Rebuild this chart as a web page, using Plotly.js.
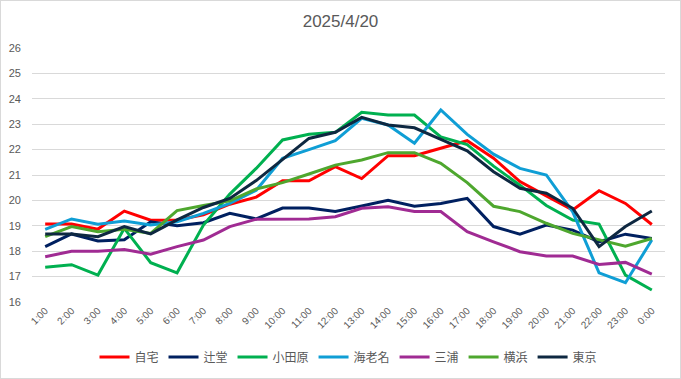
<!DOCTYPE html>
<html><head><meta charset="utf-8">
<script src="https://cdn.plot.ly/plotly-3.0.1.min.js"></script>
<style>
html,body{margin:0;padding:0;background:#fff;}
#chart{width:679px;height:377px;border:1px solid #D9D9D9;}
</style></head><body>
<div id="chart"></div>
<script>
const hours = ["1:00","2:00","3:00","4:00","5:00","6:00","7:00","8:00","9:00","10:00","11:00","12:00","13:00","14:00","15:00","16:00","17:00","18:00","19:00","20:00","21:00","22:00","23:00","0:00"];
const seriesNames = ["自宅","辻堂","小田原","海老名","三浦","横浜","東京"];
const jitaku   = [19.07,19.07,18.87,19.58,19.22,19.23,19.43,19.85,20.13,20.77,20.77,21.33,20.86,21.76,21.76,22.05,22.35,21.66,20.74,20.18,19.62,20.38,19.88,19.05];
const tsujido  = [18.18,18.68,18.40,18.45,19.16,19.00,19.12,19.49,19.27,19.70,19.70,19.56,19.78,20.00,19.77,19.88,20.08,18.97,18.67,19.03,18.83,18.37,18.67,18.50];
const odawara  = [17.37,17.47,17.06,18.90,17.55,17.15,19.03,20.25,21.26,22.38,22.60,22.68,23.47,23.36,23.36,22.50,22.20,21.35,20.60,19.80,19.23,19.07,17.06,16.47];
const ebina    = [18.86,19.27,19.06,19.19,19.03,19.16,19.49,19.88,20.40,21.66,22.00,22.35,23.23,22.97,22.25,23.56,22.60,21.82,21.26,21.00,19.55,17.15,16.76,18.44];
const miura    = [17.78,18.00,18.00,18.07,17.88,18.18,18.44,18.97,19.26,19.27,19.27,19.36,19.69,19.75,19.56,19.56,18.77,18.37,17.98,17.81,17.81,17.48,17.56,17.10];
const yokohama = [18.57,18.97,18.77,18.86,18.70,19.60,19.80,19.98,20.45,20.70,21.04,21.39,21.59,21.88,21.88,21.46,20.70,19.77,19.56,19.10,18.70,18.44,18.20,18.50];
const tokyo    = [18.68,18.68,18.57,18.97,18.68,19.23,19.72,20.08,20.78,21.62,22.44,22.68,23.27,22.97,22.86,22.40,21.95,21.13,20.48,20.28,19.69,18.18,18.97,19.58];
const yTicks = [16,17,18,19,20,21,22,23,24,25,26];

const seriesValues = [jitaku,tsujido,odawara,ebina,miura,yokohama,tokyo];
const colors = ["#FF0000","#002060","#00B050","#0F9ED5","#A02B93","#4EA72E","#0E2841"];

const traces = seriesNames.map((n,i)=>({
  type:'scatter', mode:'lines', name:n, x:hours, y:seriesValues[i],
  line:{color:colors[i], width:3}, hoverinfo:'skip'
}));

const layout = {
  width:679, height:377,
  margin:{l:31,r:15,t:47,b:76},
  paper_bgcolor:'#fff', plot_bgcolor:'#fff',
  font:{family:'"Liberation Sans", Arial, "Noto Sans CJK JP", sans-serif', color:'#595959', size:11},
  title:{text:'2025/4/20', x:0.5, xanchor:'center', yref:'container', y:0.947, yanchor:'middle',
         font:{size:17, color:'#595959', family:'"Liberation Sans", Arial, sans-serif'}},
  showlegend:true,
  legend:{orientation:'h', x:0.5, xanchor:'center', yref:'container', y:0.056, yanchor:'middle',
          font:{size:12, color:'#595959', family:'"Noto Sans CJK JP", sans-serif'},
          itemwidth:30, tracegroupgap:0, itemclick:false},
  xaxis:{type:'category', categoryorder:'array', categoryarray:hours, range:[-0.5,23.5],
         showgrid:false, zeroline:false, showline:false, ticks:'', tickangle:-45, automargin:false,
         tickfont:{size:10, color:'#595959'}, fixedrange:true},
  yaxis:{range:[16,26], tickvals:yTicks, ticktext:yTicks.map(String), showgrid:true, gridcolor:'#D9D9D9', gridwidth:1,
         zeroline:false, showline:false, ticks:'', ticklabelstandoff:10, automargin:false,
         tickfont:{size:11, color:'#595959'}, fixedrange:true}
};
Plotly.newPlot('chart', traces, layout, {displayModeBar:false, staticPlot:true});
</script>
</body></html>
